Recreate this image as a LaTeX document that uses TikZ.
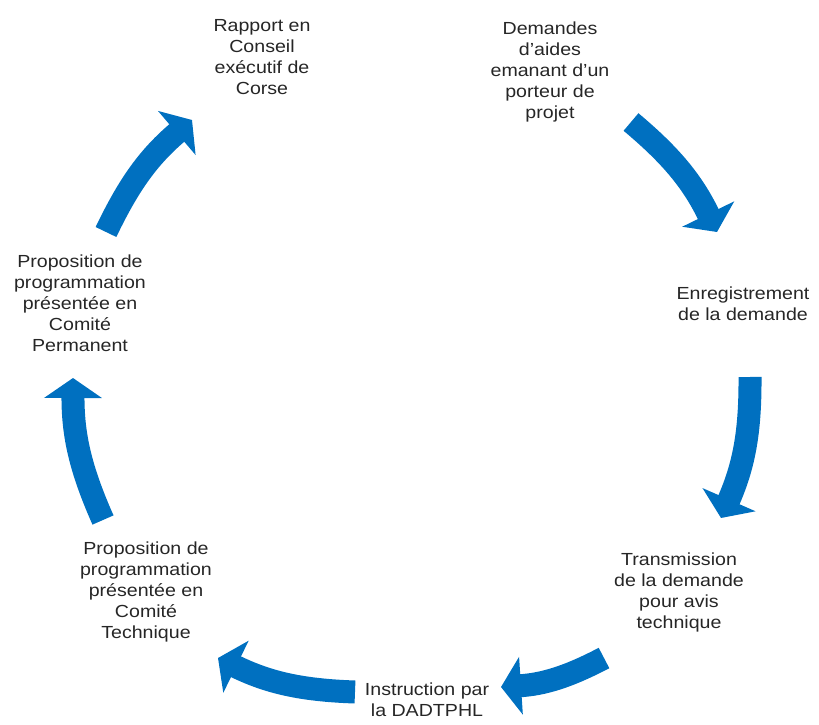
\documentclass[tikz,border=0pt]{standalone}
\usepackage{fontspec}
\setmainfont{Liberation Sans}[FakeStretch=1.12]
\usepackage{tikz}
\usetikzlibrary{arrows.meta}
\definecolor{cycleblue}{RGB}{0,112,192}
\definecolor{textgray}{RGB}{38,38,38}
\tikzset{
  StageStyle/.style={align=center,text=textgray,inner sep=0pt,
    font=\fontsize{17.5}{21}\selectfont},
  CycleArrow/.style={draw=cycleblue,line width=23pt,
    -{Triangle[length=20pt,width=57pt]},bend left=12}
}

\begin{document}
\begin{tikzpicture}[x=1pt,y=1pt]
    \useasboundingbox (0,0) rectangle (819,724);

    \node[StageStyle] (S1) at (550,652) {Demandes\\d’aides\\emanant d’un\\porteur de\\projet};
    \node[StageStyle] (S2) at (743,420) {Enregistrement\\de la demande};
    \node[StageStyle] (S3) at (679,132) {Transmission\\de la demande\\pour avis\\technique};
    \node[StageStyle] (S4) at (427,24) {Instruction par\\la DADTPHL};
    \node[StageStyle] (S5) at (146,132) {Proposition de\\programmation\\présentée en\\Comité\\Technique};
    \node[StageStyle] (S6) at (80,421) {Proposition de\\programmation\\présentée en\\Comité\\Permanent};
    \node[StageStyle] (S7) at (262,667) {Rapport en\\Conseil\\exécutif de\\Corse};

    \coordinate (A1s) at (631,602); \coordinate (A1e) at (717,492);
    \coordinate (A2s) at (750,347); \coordinate (A2e) at (721,206);
    \coordinate (A3s) at (604,66);  \coordinate (A3e) at (501,37);
    \coordinate (A4s) at (355,32);  \coordinate (A4e) at (218,66);
    \coordinate (A5s) at (103,204); \coordinate (A5e) at (73,346);
    \coordinate (A6s) at (106,492); \coordinate (A6e) at (192,604);

    \draw[CycleArrow] (A1s) to (A1e);
    \draw[CycleArrow] (A2s) to (A2e);
    \draw[CycleArrow] (A3s) to (A3e);
    \draw[CycleArrow] (A4s) to (A4e);
    \draw[CycleArrow] (A5s) to (A5e);
    \draw[CycleArrow] (A6s) to (A6e);
\end{tikzpicture}
\end{document}
